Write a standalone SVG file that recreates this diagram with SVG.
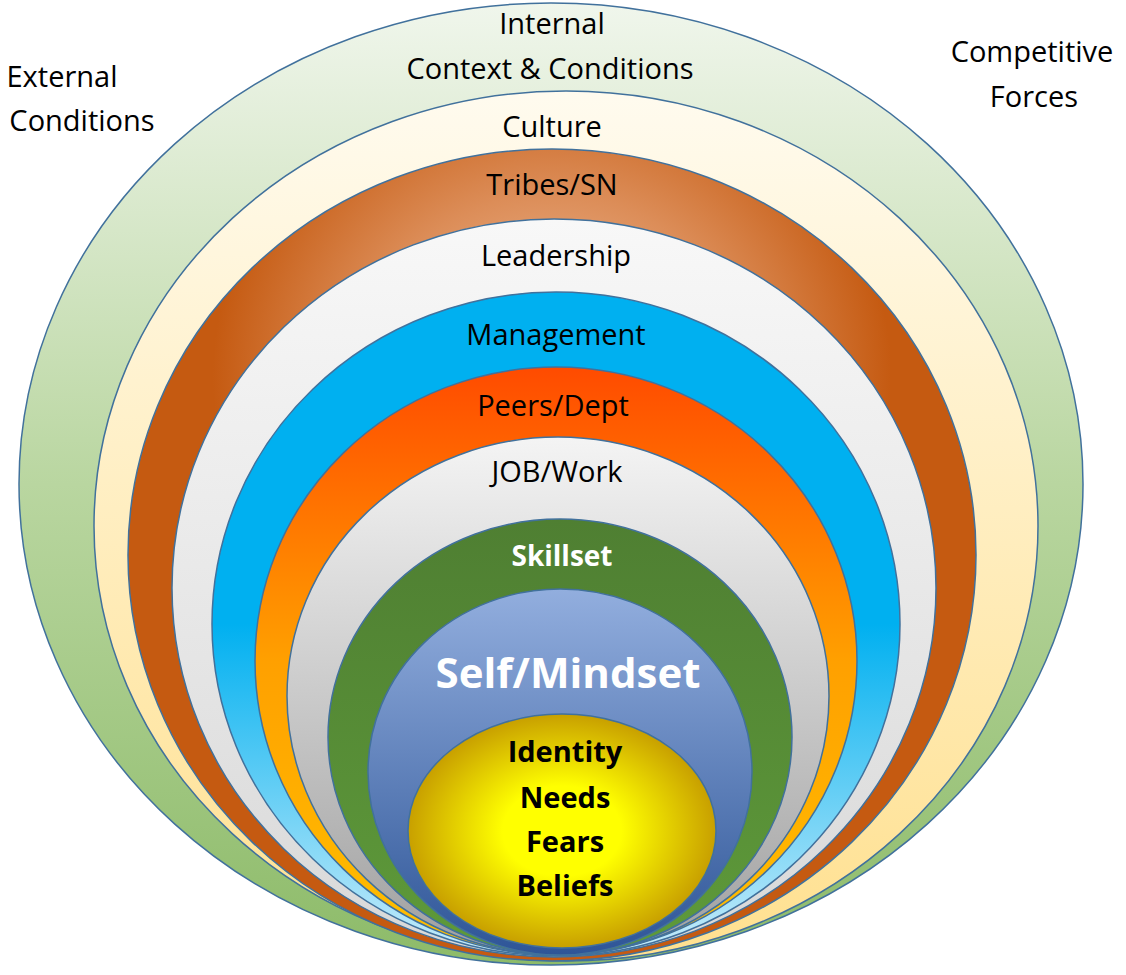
<svg xmlns="http://www.w3.org/2000/svg" width="1126" height="975" viewBox="0 0 1126 975">
<defs>
<linearGradient id="gGreen" x1="0" y1="0" x2="0" y2="1"><stop offset="0" stop-color="#f0f6ec"/><stop offset="0.5" stop-color="#b9d6a0"/><stop offset="1" stop-color="#8dbb69"/></linearGradient>
<linearGradient id="gCream" x1="0" y1="0" x2="0" y2="1"><stop offset="0" stop-color="#fffbef"/><stop offset="1" stop-color="#ffe08f"/></linearGradient>
<radialGradient id="gTribe" cx="0.5" cy="0.28" r="0.5"><stop offset="0" stop-color="#f4c8a8"/><stop offset="0.45" stop-color="#dc8d58"/><stop offset="0.8" stop-color="#c55a11"/><stop offset="1" stop-color="#c55a11"/></radialGradient>
<linearGradient id="gLead" x1="0" y1="0" x2="0" y2="1"><stop offset="0" stop-color="#f8f8f8"/><stop offset="1" stop-color="#d8d8d8"/></linearGradient>
<linearGradient id="gMgmt" x1="0" y1="0" x2="0" y2="1"><stop offset="0" stop-color="#00b0f0"/><stop offset="0.5" stop-color="#00b0f0"/><stop offset="1" stop-color="#c8ecfa"/></linearGradient>
<linearGradient id="gPeer" x1="0" y1="0" x2="0" y2="1"><stop offset="0" stop-color="#ff4b00"/><stop offset="0.5" stop-color="#ffa000"/><stop offset="1" stop-color="#ffc000"/></linearGradient>
<linearGradient id="gJob" x1="0" y1="0" x2="0" y2="1"><stop offset="0" stop-color="#f4f4f4"/><stop offset="1" stop-color="#a0a0a0"/></linearGradient>
<linearGradient id="gSkill" x1="0" y1="0" x2="0" y2="1"><stop offset="0" stop-color="#4f7f32"/><stop offset="1" stop-color="#5e9a3a"/></linearGradient>
<linearGradient id="gSelf" x1="0" y1="0" x2="0" y2="1"><stop offset="0" stop-color="#92aede"/><stop offset="1" stop-color="#2e5597"/></linearGradient>
<radialGradient id="gYel" cx="0.5" cy="0.5" r="0.55"><stop offset="0.35" stop-color="#ffff00"/><stop offset="1" stop-color="#bf9000"/></radialGradient>
<style>
ellipse{stroke:#41719c;stroke-width:1.5}
text{font-family:"Open Sans","Liberation Sans",sans-serif;font-size:29px;fill:#000;text-anchor:middle}
.w{fill:#fff;font-weight:bold}
.b{font-weight:bold}
</style>
</defs>
<g id="external"><ellipse cx="551" cy="484" rx="532" ry="481" fill="url(#gGreen)"/></g>
<g id="culture"><ellipse cx="566" cy="526" rx="472" ry="435" fill="url(#gCream)"/></g>
<g id="tribes"><ellipse cx="552" cy="555" rx="424" ry="406" fill="url(#gTribe)"/></g>
<g id="leadership"><ellipse cx="554" cy="588" rx="382" ry="369" fill="url(#gLead)"/></g>
<g id="management"><ellipse cx="556" cy="624" rx="344" ry="332" fill="url(#gMgmt)"/></g>
<g id="peers"><ellipse cx="556" cy="661" rx="301" ry="294" fill="url(#gPeer)"/></g>
<g id="job"><ellipse cx="558" cy="696" rx="271" ry="259" fill="url(#gJob)"/></g>
<g id="skillset"><ellipse cx="560" cy="737" rx="232" ry="218" fill="url(#gSkill)"/></g>
<g id="self"><ellipse cx="560" cy="772" rx="192" ry="183" fill="url(#gSelf)"/></g>
<g id="core"><ellipse cx="562" cy="831" rx="154" ry="117" fill="url(#gYel)"/></g>
<g id="connectors"/>
<g id="labels">
<text x="62" y="87">External</text>
<text x="82" y="131">Conditions</text>
<text x="1032" y="62">Competitive</text>
<text x="1034" y="107">Forces</text>
<text x="552" y="34">Internal</text>
<text x="550" y="79">Context &amp; Conditions</text>
<text x="552" y="137">Culture</text>
<text x="552" y="195">Tribes/SN</text>
<text x="556" y="266">Leadership</text>
<text x="556" y="345">Management</text>
<text x="553" y="416">Peers/Dept</text>
<text x="557" y="482">JOB/Work</text>
<text x="562" y="566" class="w" style="font-size:28px">Skillset</text>
<text x="568" y="688" class="w" style="font-size:42px">Self/Mindset</text>
<text x="565" y="762" class="b">Identity</text>
<text x="565" y="808" class="b">Needs</text>
<text x="565" y="852" class="b">Fears</text>
<text x="565" y="896" class="b">Beliefs</text>
</g>
</svg>
